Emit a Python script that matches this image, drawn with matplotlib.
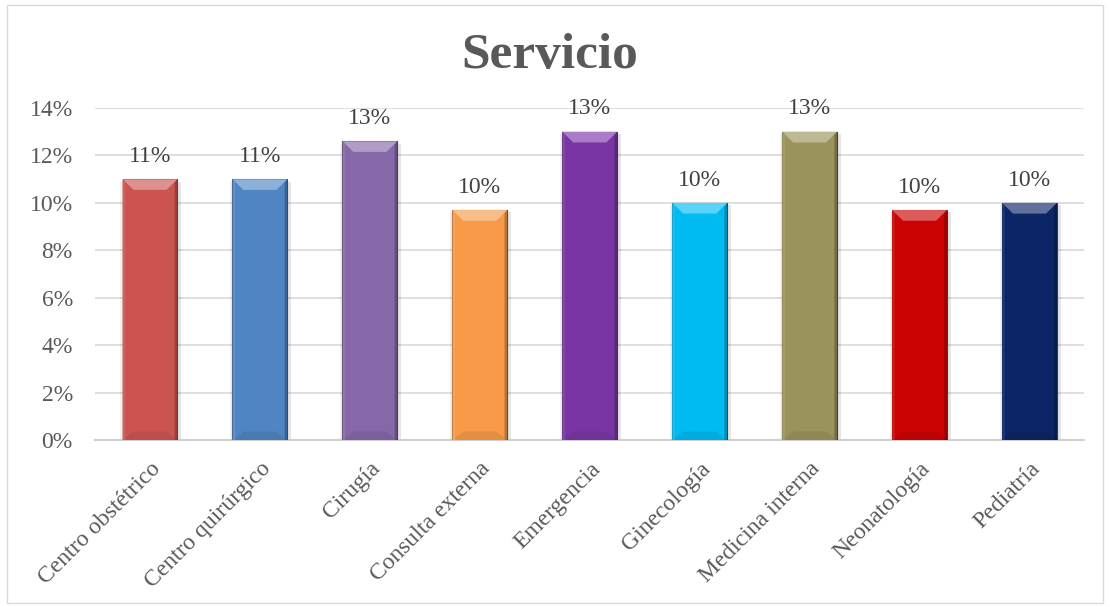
import matplotlib
matplotlib.use("Agg")
import matplotlib.pyplot as plt
from matplotlib.patches import Polygon, Rectangle
import matplotlib.colors as mcolors
import numpy as np

categories = ["Centro obstétrico", "Centro quirúrgico", "Cirugía", "Consulta externa",
              "Emergencia", "Ginecología", "Medicina interna", "Neonatología", "Pediatría"]
values = [0.110, 0.110, 0.126, 0.097, 0.130, 0.100, 0.130, 0.097, 0.100]
colors = ["#CB5450", "#5085C4", "#8668A8", "#F99A48", "#7A35A5", "#00BBF2",
          "#9B935C", "#CC0303", "#0B2566"]
yticks = [0, 0.02, 0.04, 0.06, 0.08, 0.10, 0.12, 0.14]

plt.rcParams['font.family'] = ['Liberation Serif', 'DejaVu Serif']
txt = "#595959"

fig = plt.figure(figsize=(11.1, 6.07), dpi=100)
ax = fig.add_axes([0.0856, 0.275, 0.8914, 0.547])

x = np.arange(len(categories))
w = 0.5
bars = ax.bar(x, values, width=w, color=colors, edgecolor="#3a3a3a", linewidth=0.8, zorder=3)

def adjust(c, f):
    r, g, b = mcolors.to_rgb(c)
    if f > 0:
        return (r + (1 - r) * f, g + (1 - g) * f, b + (1 - b) * f)
    return (r * (1 + f), g * (1 + f), b * (1 + f))

dx = 0.1
dy = 0.0045
for xi, v, c in zip(x, values, colors):
    x0, x1 = xi - w / 2, xi + w / 2
    # soft shadow
    ax.add_patch(Rectangle((x1, 0), 0.035, v - 0.001, facecolor="#000000", alpha=0.10,
                           edgecolor="none", zorder=2))
    ax.add_patch(Rectangle((x0 - 0.02, 0), 0.02, v - 0.001, facecolor="#000000", alpha=0.05,
                           edgecolor="none", zorder=2))
    top = Polygon([(x0, v), (x1, v), (x1 - dx, v - dy), (x0 + dx, v - dy)],
                  closed=True, facecolor=adjust(c, 0.35), edgecolor="none", zorder=4)
    ax.add_patch(top)
    bot = Polygon([(x0, 0), (x1, 0), (x1 - dx, dy * 0.8), (x0 + dx, dy * 0.8)],
                  closed=True, facecolor=adjust(c, -0.08), edgecolor="none", zorder=4)
    ax.add_patch(bot)
    left = Polygon([(x0, 0), (x0, v), (x0 + 0.025, v - dy * 0.3), (x0 + 0.025, 0)],
                   closed=True, facecolor=adjust(c, 0.08), edgecolor="none", zorder=4)
    ax.add_patch(left)
    right = Polygon([(x1, 0), (x1, v), (x1 - 0.025, v - dy * 0.3), (x1 - 0.025, 0)],
                    closed=True, facecolor=adjust(c, -0.25), edgecolor="none", zorder=4)
    ax.add_patch(right)
    ax.text(xi, v + 0.0052, f"{v * 100:.0f}%", ha="center", va="bottom",
            fontsize=17, color="#404040", zorder=5)

ax.set_xlim(-0.5, len(categories) - 0.5)
ax.set_ylim(0, 0.14)
ax.set_yticks(yticks)
ax.set_yticklabels([f"{t * 100:.0f}%" for t in yticks], fontsize=17, color=txt)
ax.set_xticks(x)
ax.set_xticklabels(categories, rotation=45, ha="right", rotation_mode="anchor",
                   fontsize=17, color=txt)
ax.tick_params(axis="y", length=0, pad=16)
ax.tick_params(axis="x", length=0, pad=13)
ax.grid(axis="y", color="#D9D9D9", linewidth=1.2, zorder=0)
for s in ["top", "right", "left"]:
    ax.spines[s].set_visible(False)
ax.spines["bottom"].set_color("#D0D0D0")
ax.spines["bottom"].set_linewidth(1.5)

fig.text(0.495, 0.907, "Servicio", ha="center", va="center", fontsize=37,
         fontweight="bold", color=txt)

fig.patches.append(Rectangle((0.006, 0.006), 0.988, 0.985, transform=fig.transFigure,
                             fill=False, edgecolor="#D9D9D9", linewidth=1.0))

fig.savefig("out.png", dpi=100)
